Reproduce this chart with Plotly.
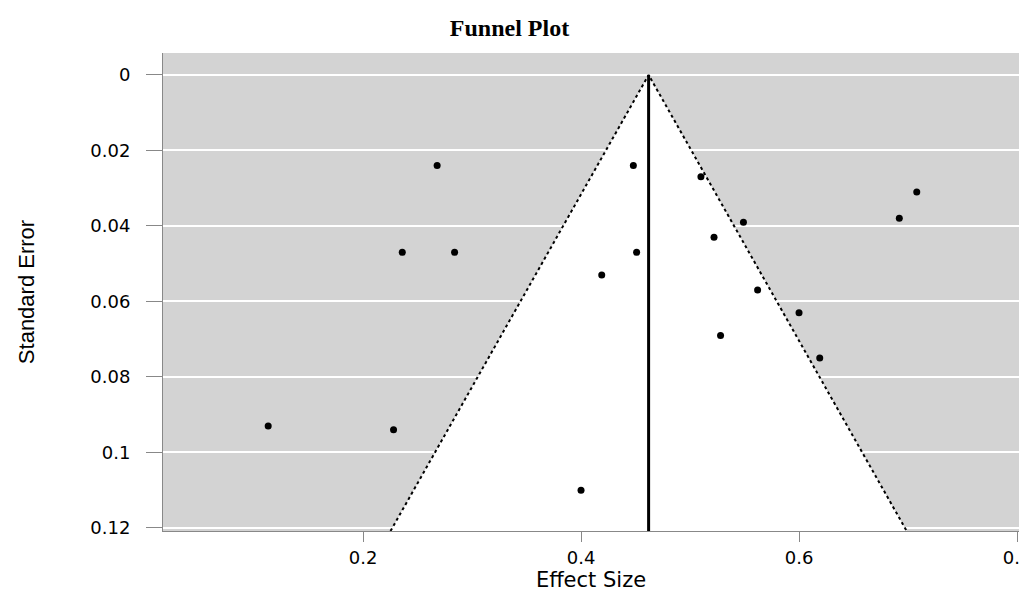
import plotly.graph_objects as go

# ---- data ----
effect_size = [0.268, 0.448, 0.510, 0.708, 0.692, 0.549, 0.522, 0.236, 0.284, 0.451,
               0.419, 0.562, 0.600, 0.528, 0.619, 0.113, 0.228, 0.400]
std_error = [0.024, 0.024, 0.027, 0.031, 0.038, 0.039, 0.043, 0.047, 0.047, 0.047,
             0.053, 0.057, 0.063, 0.069, 0.075, 0.093, 0.094, 0.110]
pooled_effect = 0.462
z_crit = 1.96
se_ticks = [0, 0.02, 0.04, 0.06, 0.08, 0.1, 0.12]
se_tick_labels = ["0", "0.02", "0.04", "0.06", "0.08", "0.1", "0.12"]
es_ticks = [0.2, 0.4, 0.6, 0.8]
es_tick_labels = ["0.2", "0.4", "0.6", "0.8"]

x_range = [0.0165, 0.8018]
y_bottom = 0.1208
y_top = -0.0058

# funnel edges (pseudo 95% CI)
left_base = pooled_effect - z_crit * y_bottom
right_base = pooled_effect + z_crit * y_bottom

fig = go.Figure()

# white funnel region
fig.add_trace(go.Scatter(
    x=[pooled_effect, left_base, right_base, pooled_effect],
    y=[0, y_bottom, y_bottom, 0],
    fill="toself", fillcolor="white", mode="none",
    hoverinfo="skip", showlegend=False))

# dotted funnel edges
fig.add_trace(go.Scatter(
    x=[left_base, pooled_effect, right_base],
    y=[y_bottom, 0, y_bottom],
    mode="lines", line=dict(color="black", width=2, dash="dot"),
    hoverinfo="skip", showlegend=False))

# vertical pooled-effect line
fig.add_trace(go.Scatter(
    x=[pooled_effect, pooled_effect], y=[0, y_bottom],
    mode="lines", line=dict(color="black", width=3),
    hoverinfo="skip", showlegend=False))

# studies
fig.add_trace(go.Scatter(
    x=effect_size, y=std_error, mode="markers",
    marker=dict(color="black", size=7),
    showlegend=False))

fig.update_layout(
    width=1019, height=597,
    margin=dict(l=163, r=0, t=53, b=66, autoexpand=False),
    paper_bgcolor="white", plot_bgcolor="#d3d3d3",
    title=dict(text="<b>Funnel Plot</b>", x=0.5, xref="container", xanchor="center",
               y=1 - 28 / 597, yref="container", yanchor="middle",
               font=dict(family="Liberation Serif, Times New Roman, serif", size=24, color="black")),
    font=dict(family="DejaVu Sans, sans-serif", color="black"),
)

fig.update_xaxes(
    range=x_range, tickvals=es_ticks, ticktext=es_tick_labels,
    showgrid=False, zeroline=False, showline=True, linecolor="#888888", linewidth=1,
    ticks="outside", ticklen=10, tickcolor="#888888",
    ticklabeloverflow="allow",
    tickfont=dict(family="DejaVu Sans, sans-serif", size=18, color="black"),
    title=dict(text="Effect Size", standoff=4,
               font=dict(family="DejaVu Sans, sans-serif", size=21, color="black")),
    automargin=False)

fig.update_yaxes(
    range=[y_bottom, y_top], tickvals=se_ticks, ticktext=se_tick_labels,
    showgrid=True, gridcolor="white", gridwidth=1.5,
    zeroline=False, showline=True, linecolor="#888888", linewidth=1,
    ticks="outside", ticklen=16, tickcolor="#888888",
    tickfont=dict(family="DejaVu Sans, sans-serif", size=18, color="black"),
    ticklabelstandoff=12,
    title=dict(text="Standard Error", standoff=49,
               font=dict(family="Liberation Sans, Arial, sans-serif", size=22, color="black")),
    automargin=False)

fig.write_html("out.html", config={"displayModeBar": False},
               post_script="document.body.style.margin='0';document.body.style.overflow='hidden';")
